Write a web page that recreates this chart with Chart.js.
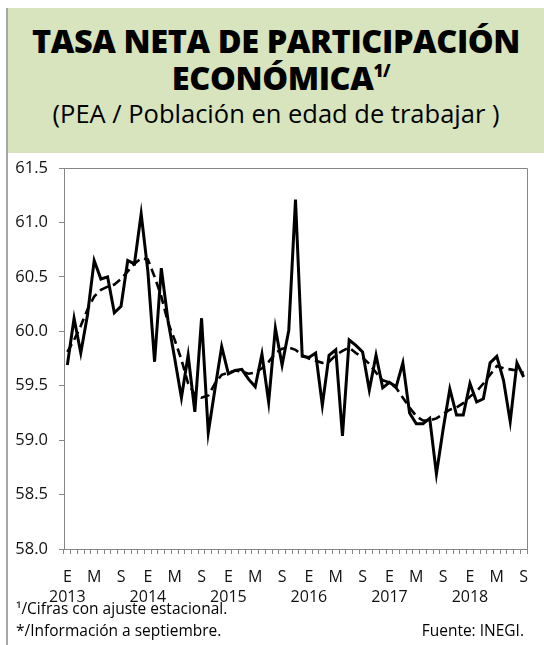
<!DOCTYPE html>
<html lang="es">
<head>
<meta charset="utf-8">
<title>Tasa neta de participación económica</title>
<script src="https://cdn.jsdelivr.net/npm/chart.js@4"></script>
<style>
  html, body { margin: 0; padding: 0; background: #fff; }
  body { width: 544px; height: 645px; position: relative; overflow: hidden; font-family: "Open Sans", sans-serif; color: #000; }
  #frame { position: absolute; left: 6px; top: 8px; width: 2px; height: 637px; background: #a6a6a6; }
  #header { position: absolute; left: 8px; top: 8px; width: 536px; height: 145px; background: #d7e4bd; text-align: center; }
  #t1 { position: absolute; left: 0; right: 0; top: 13px; font-weight: 800; font-size: 32.5px; line-height: 40px; letter-spacing: -0.4px; }
  #t2 { position: absolute; left: 0; right: 0; top: 50px; font-weight: 800; font-size: 32.5px; line-height: 40px; letter-spacing: -0.4px; padding-left: 10px; }
  #t2 sup { font-size: 17px; vertical-align: 13px; line-height: 0; }
  #t3 { position: absolute; left: 0; right: 0; top: 88px; font-size: 25.5px; line-height: 34px; }
  #chart { position: absolute; left: 0; top: 0; }
  .note { position: absolute; font-size: 15.5px; line-height: 20px; white-space: nowrap; }
</style>
</head>
<body>
<div id="frame"></div>
<div id="header">
  <div id="t1">TASA NETA DE PARTICIPACIÓN</div>
  <div id="t2">ECONÓMICA<sup>1/</sup></div>
  <div id="t3">(PEA / Población en edad de trabajar )</div>
</div>
<canvas id="chart" width="544" height="645"></canvas>
<div class="note" style="left:16px; top:598px;">¹/Cifras con ajuste estacional.</div>
<div class="note" style="left:16px; top:620px;">*/Información a septiembre.</div>
<div class="note" style="right:20px; top:620px;">Fuente: INEGI.</div>
<script>
// Monthly series, January 2013 to September 2018
const years = ['2013', '2014', '2015', '2016', '2017', '2018'];
const monthInitials = ['E', 'F', 'M', 'A', 'M', 'J', 'J', 'A', 'S', 'O', 'N', 'D'];
const labeledMonths = [0, 4, 8]; // enero, mayo, septiembre

// Seasonally adjusted rate (solid line)
const tasa = [
  59.69, 60.12, 59.80, 60.15, 60.65, 60.48, 60.50, 60.17, 60.23, 60.65, 60.62, 61.08,
  60.55, 59.72, 60.58, 60.10, 59.75, 59.39, 59.78, 59.26, 60.12, 59.07, 59.47, 59.86,
  59.61, 59.64, 59.65, 59.56, 59.49, 59.79, 59.35, 60.03, 59.69, 60.01, 61.21, 59.77,
  59.76, 59.80, 59.32, 59.78, 59.83, 59.04, 59.92, 59.87, 59.81, 59.46, 59.78, 59.48,
  59.53, 59.49, 59.71, 59.25, 59.15, 59.15, 59.20, 58.69, 59.10, 59.47, 59.23, 59.23,
  59.52, 59.35, 59.38, 59.71, 59.77, 59.55, 59.17, 59.71, 59.58
];

// Trend-cycle (dashed line)
const tendencia = [
  59.81, 59.92, 60.05, 60.20, 60.32, 60.38, 60.41, 60.43, 60.48, 60.55, 60.62, 60.67,
  60.66, 60.50, 60.32, 60.08, 59.92, 59.74, 59.52, 59.42, 59.39, 59.41, 59.52, 59.60,
  59.62, 59.64, 59.63, 59.61, 59.62, 59.66, 59.72, 59.80, 59.84, 59.85, 59.83, 59.78,
  59.75, 59.73, 59.71, 59.72, 59.78, 59.82, 59.85, 59.80, 59.76, 59.70, 59.62, 59.55,
  59.53, 59.48, 59.39, 59.30, 59.22, 59.18, 59.18, 59.20, 59.24, 59.28, 59.30, 59.34,
  59.40, 59.45, 59.52, 59.60, 59.68, 59.66, 59.65, 59.64, 59.62
];

const yTicks = { min: 58.0, max: 61.5, step: 0.5 };

// Category labels: month initial plus year for each January
const categories = tasa.map((_, i) => {
  const m = i % 12;
  const y = years[Math.floor(i / 12)];
  return { month: monthInitials[m], year: y, m };
});

const axisGrey = '#868686';
const textColor = '#111';

// Thin frame on the top and right sides of the plot area
const plotFrame = {
  id: 'plotFrame',
  afterDraw(chart) {
    const { ctx, chartArea: a } = chart;
    ctx.save();
    ctx.strokeStyle = axisGrey;
    ctx.lineWidth = 1;
    ctx.beginPath();
    ctx.moveTo(a.left, a.top + 0.5);
    ctx.lineTo(a.right + 0.5, a.top + 0.5);
    ctx.lineTo(a.right + 0.5, a.bottom);
    ctx.stroke();
    ctx.restore();
  }
};

new Chart(document.getElementById('chart'), {
  type: 'line',
  data: {
    labels: categories.map(c => c.month + ' ' + c.year),
    datasets: [
      {
        label: 'Tasa',
        data: tasa,
        borderColor: '#000',
        borderWidth: 3,
        pointRadius: 0,
        tension: 0,
        order: 0
      },
      {
        label: 'Tendencia',
        data: tendencia,
        borderColor: '#000',
        borderWidth: 2.6,
        borderDash: [9, 5],
        pointRadius: 0,
        tension: 0,
        order: 1
      }
    ]
  },
  options: {
    responsive: false,
    animation: false,
    devicePixelRatio: 1,
    layout: { padding: { top: 168, right: 17, bottom: 36, left: 0 } },
    plugins: { legend: { display: false }, tooltip: { enabled: false } },
    scales: {
      x: {
        type: 'category',
        offset: true,
        grid: {
          offset: true,
          drawOnChartArea: false,
          drawTicks: true,
          tickLength: 5,
          color: axisGrey,
          lineWidth: 1
        },
        border: { color: axisGrey, width: 1 },
        ticks: {
          autoSkip: false,
          maxRotation: 0,
          minRotation: 0,
          padding: 13,
          color: textColor,
          font: { family: 'Open Sans', size: 16, lineHeight: 1.25 },
          callback: (v, i) => {
            const c = categories[i];
            if (!labeledMonths.includes(c.m)) return '';
            return c.m === 0 ? [c.month, c.year] : c.month;
          }
        },
        afterFit: s => { s.height = 60; }
      },
      y: {
        min: yTicks.min,
        max: yTicks.max,
        grid: {
          drawOnChartArea: false,
          drawTicks: true,
          tickLength: 5,
          color: axisGrey,
          lineWidth: 1
        },
        border: { color: axisGrey, width: 1 },
        ticks: {
          stepSize: yTicks.step,
          padding: 11,
          color: textColor,
          font: { family: 'Open Sans', size: 16.5 },
          callback: v => Number(v).toFixed(1)
        },
        afterFit: s => { s.width = 64; }
      }
    }
  },
  plugins: [plotFrame]
});
</script>
</body>
</html>
